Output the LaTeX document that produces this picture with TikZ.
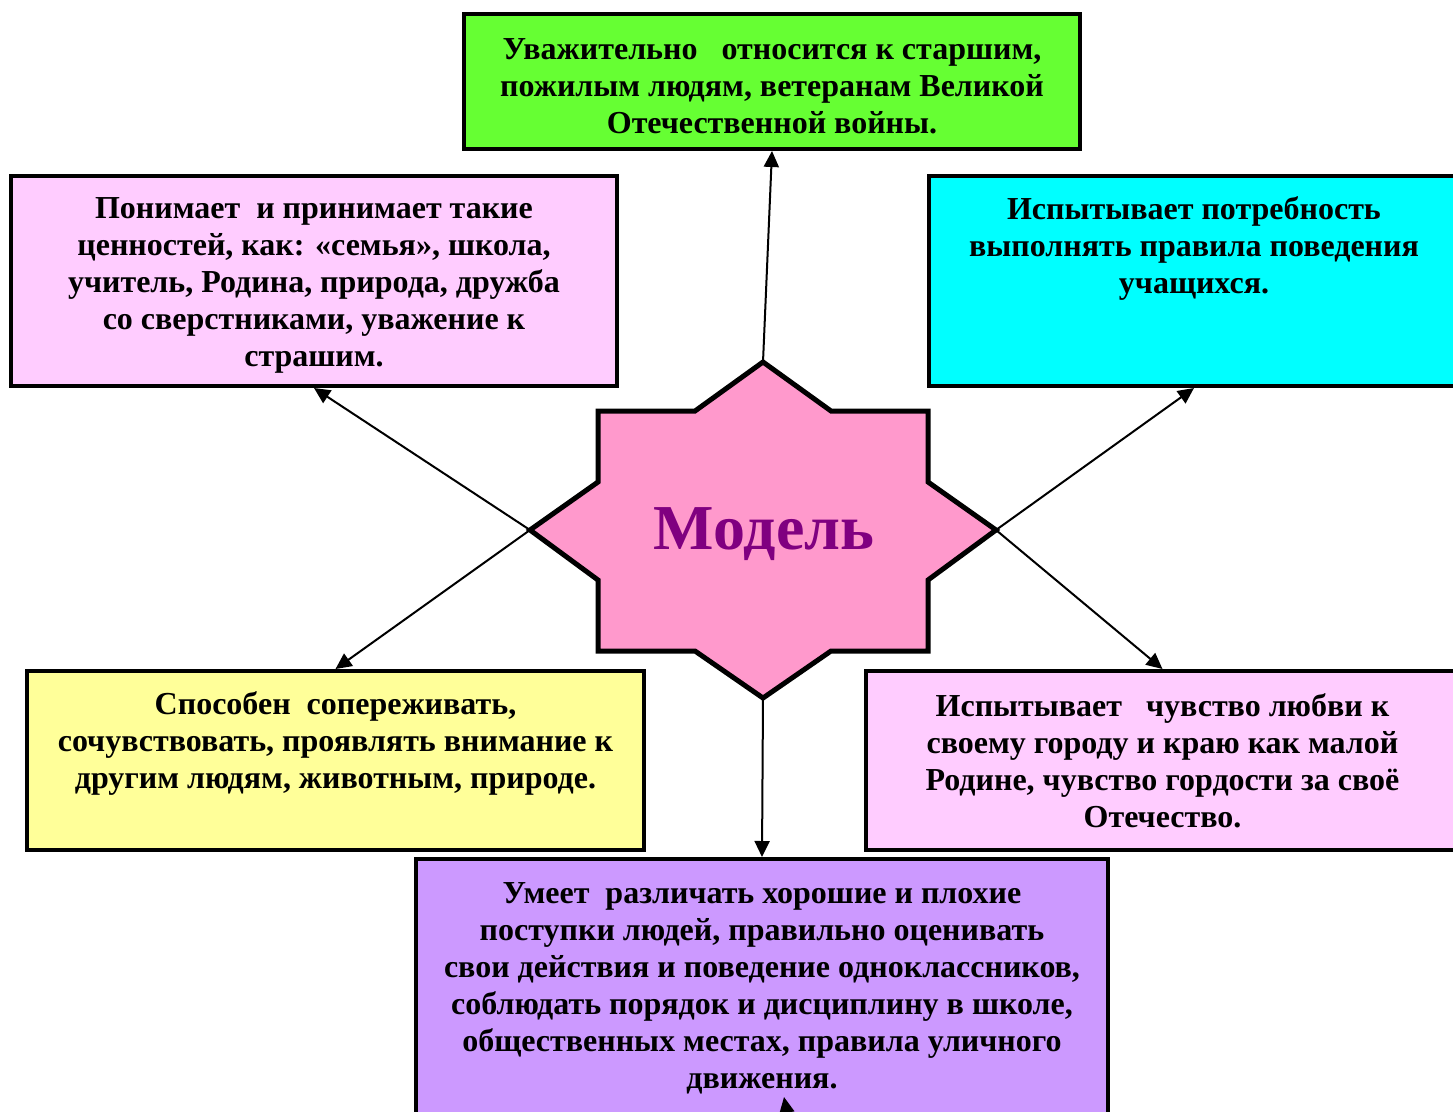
\documentclass[tikz,border=0pt]{standalone}
\usepackage{fontspec}
\setmainfont{Liberation Serif}
\usetikzlibrary{arrows.meta,calc}
\definecolor{cGreen}{HTML}{66FF33}
\definecolor{cPinkL}{HTML}{FFCCFF}
\definecolor{cCyan}{HTML}{00FFFF}
\definecolor{cYellow}{HTML}{FFFF99}
\definecolor{cViolet}{HTML}{CC99FF}
\definecolor{cStar}{HTML}{FF99CC}
\definecolor{cTitle}{HTML}{800080}
\begin{document}
\begin{tikzpicture}[x=1pt,y=-1pt,
  box/.style={draw=black,line width=4pt,inner sep=0pt,rectangle},
  txt/.style={align=center,inner sep=0pt,font=\bfseries\fontsize{32}{37}\selectfont},
  arr/.style={line width=2pt,-{Triangle[length=16pt,width=15pt]}}]
\useasboundingbox (0,0) rectangle (1453,1111);
\clip (0,0) rectangle (1453,1111);
\fill[white] (0,0) rectangle (1453,1111);
% boxes
\node[box,fill=cGreen,minimum width=616pt,minimum height=135pt] (bG) at (772,81.5) {};
\node[box,fill=cPinkL,minimum width=606pt,minimum height=210pt] (bL) at (314,281) {};
\node[box,fill=cCyan,minimum width=530pt,minimum height=210pt] (bC) at (1194,281) {};
\node[box,fill=cYellow,minimum width=617pt,minimum height=179pt] (bY) at (335.5,760.5) {};
\node[box,fill=cPinkL,minimum width=593pt,minimum height=179pt] (bR) at (1162.5,760.5) {};
\node[box,fill=cViolet,minimum width=692pt,minimum height=271pt] (bV) at (762,994.5) {};
% star vertices
\coordinate (sT) at (763,362);
\coordinate (sB) at (763,698);
\coordinate (sL) at (530,530);
\coordinate (sR) at (996,530);
% arrows (drawn before the star so that their inner ends are hidden)
\draw[arr] (sT) -- (bG.south);
\draw[arr] (sB) -- (bV.north);
\draw[arr] ($(sL)!-16pt!(bL.south)$) -- (bL.south);
\draw[arr] ($(sL)!-16pt!(bY.north)$) -- (bY.north);
\draw[arr] ($(sR)!-16pt!(bC.south)$) -- (bC.south);
\draw[arr] ($(sR)!-16pt!(bR.north)$) -- (bR.north);
\coordinate (xTail) at (790,1130);
\coordinate (xTip) at (784,1097);
\draw[arr] (xTail) -- (xTip);
% star
\draw[fill=cStar,line width=5pt,miter limit=10] (sT) -- (831,411) -- (928,411) -- (928,482) -- (sR) -- (928,580) -- (928,651) -- (831,651) -- (sB) -- (695,651) -- (598,651) -- (598,580) -- (sL) -- (598,482) -- (598,411) -- (695,411) -- cycle;
\node[inner sep=0pt,text=cTitle,font=\bfseries\fontsize{64}{70}\selectfont] (star) at (764,534) {Модель};
% texts
\node[txt] (tG) at (772,86) {Уважительно\ \ \ относится к старшим,\\пожилым людям, ветеранам Великой\\Отечественной войны.};
\node[txt] (tL) at (314,285) {Понимает\ \ и принимает такие\\ценностей, как: «семья», школа,\\учитель, Родина, природа, дружба\\со сверстниками, уважение к\\страшим.};
\node[txt] (tC) at (1194,248) {Испытывает потребность\\выполнять правила поведения\\учащихся.};
\node[txt] (tY) at (335.5,743) {Способен\ \ сопереживать,\\сочувствовать, проявлять внимание к\\другим людям, животным, природе.};
\node[txt] (tR) at (1162.5,761) {Испытывает\ \ \ чувство любви к\\своему городу и краю как малой\\Родине, чувство гордости за своё\\Отечество.};
\node[txt] (tV) at (762,988) {Умеет\ \ различать хорошие и плохие\\поступки людей, правильно оценивать\\свои действия и поведение одноклассников,\\соблюдать порядок и дисциплину в школе,\\общественных местах, правила уличного\\движения.};
\end{tikzpicture}
\end{document}
